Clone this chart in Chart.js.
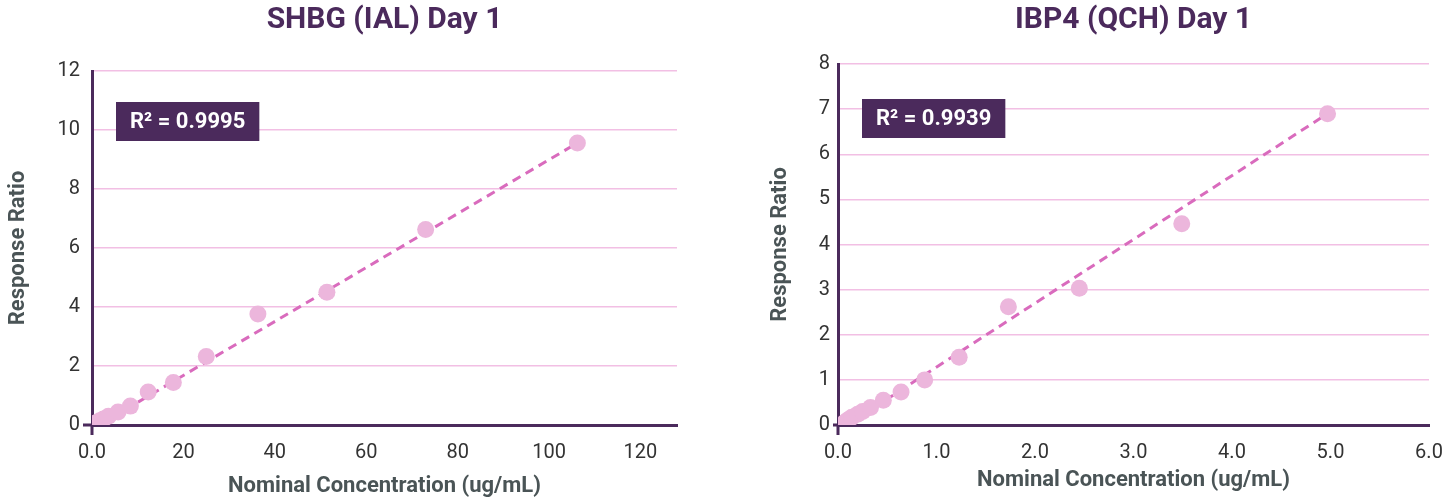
<!DOCTYPE html>
<html>
<head>
<meta charset="utf-8">
<script src="https://cdn.jsdelivr.net/npm/chart.js@4.4.1/dist/chart.umd.min.js"></script>
<style>
  body { margin: 0; background: #ffffff; }
  #wrap { position: relative; width: 1455px; height: 502px; }
  canvas { position: absolute; top: 0; }
  #c1 { left: 0; }
  #c2 { left: 727px; }
</style>
</head>
<body>
<div id="wrap">
  <canvas id="c1" width="727" height="502"></canvas>
  <canvas id="c2" width="728" height="502"></canvas>
</div>
<script>
// SHBG (IAL) Day 1
const shbgConc  = [0.3, 0.6, 1.1, 1.7, 2.5, 3.6, 5.7, 8.4, 12.3, 17.8, 25.0, 36.3, 51.4, 73.0, 106.2];
const shbgRatio = [0.02, 0.05, 0.09, 0.14, 0.2, 0.3, 0.44, 0.64, 1.12, 1.44, 2.32, 3.76, 4.5, 6.63, 9.56];
const shbgFitX  = [1.6, 106.2];
const shbgFitY  = [0.0, 9.56];

// IBP4 (QCH) Day 1
const ibpConc  = [0.07, 0.1, 0.14, 0.2, 0.25, 0.33, 0.46, 0.64, 0.88, 1.23, 1.73, 2.45, 3.49, 4.97];
const ibpRatio = [0.06, 0.11, 0.17, 0.24, 0.3, 0.39, 0.55, 0.73, 1.0, 1.5, 2.62, 3.03, 4.46, 6.9];
const ibpFitX  = [0.1, 4.97];
const ibpFitY  = [0.01, 6.9];

const AXIS = '#4b2a5c';
const GRID = '#f2bfe4';
const POINT = '#ecb6dc';
const FIT = '#d96bbd';
const TICK = '#333333';
const AXTITLE = '#4a5456';

function pairs(xs, ys) {
  return xs.map((x, i) => ({ x: x, y: ys[i] }));
}

// R² label box, placed relative to the plot area
const r2Box = {
  id: 'r2Box',
  afterDatasetsDraw(chart, args, opts) {
    const ctx = chart.ctx;
    const a = chart.chartArea;
    ctx.save();
    ctx.font = 'bold 22px Roboto';
    const w = ctx.measureText(opts.text).width + 28;
    const x = a.left + 24;
    const y = a.top + opts.dy;
    ctx.fillStyle = AXIS;
    ctx.fillRect(x, y, w, 39);
    ctx.fillStyle = '#ffffff';
    ctx.textBaseline = 'middle';
    ctx.fillText(opts.text, x + 14, y + 20);
    ctx.restore();
  }
};

// small overhang of the axis lines past the origin
const axisStubs = {
  id: 'axisStubs',
  afterDraw(chart, args, opts) {
    const ctx = chart.ctx;
    const x0 = chart.scales.x.getPixelForValue(0);
    const y0 = chart.scales.y.getPixelForValue(0);
    ctx.save();
    ctx.strokeStyle = AXIS;
    ctx.lineWidth = 3;
    ctx.beginPath();
    ctx.moveTo(x0, y0);
    ctx.lineTo(x0, y0 + opts.down);
    ctx.moveTo(x0, y0);
    ctx.lineTo(x0 - opts.left, y0);
    ctx.stroke();
    ctx.restore();
  }
};

function makeChart(id, opt) {
  new Chart(document.getElementById(id), {
    type: 'scatter',
    data: {
      datasets: [
        {
          data: pairs(opt.conc, opt.ratio),
          backgroundColor: POINT,
          borderWidth: 0,
          pointRadius: 8.5,
          showLine: false
        },
        {
          data: pairs(opt.fitX, opt.fitY),
          showLine: true,
          borderColor: FIT,
          borderWidth: 3,
          borderDash: [9, 6],
          pointRadius: 0,
          fill: false
        }
      ]
    },
    options: {
      responsive: false,
      animation: false,
      devicePixelRatio: 1,
      layout: { padding: { left: opt.padLeft, right: opt.padRight, top: 0, bottom: 0 } },
      plugins: {
        legend: { display: false },
        tooltip: { enabled: false },
        title: {
          display: true,
          fullSize: false,
          text: opt.title,
          color: AXIS,
          font: { family: 'Roboto', size: 30, weight: 'bold' },
          padding: { top: 2, bottom: opt.titleGap }
        },
        r2Box: { text: opt.r2, dy: opt.boxDy },
        axisStubs: { down: 10, left: opt.yTickLen }
      },
      scales: {
        x: {
          type: 'linear',
          min: 0,
          max: opt.xMax,
          border: { display: true, color: AXIS, width: 3 },
          grid: {
            drawOnChartArea: false,
            tickLength: 10,
            color: 'rgba(0,0,0,0)'
          },
          ticks: {
            stepSize: opt.xStep,
            includeBounds: false,
            padding: 6,
            maxRotation: 0,
            color: TICK,
            font: { family: 'Roboto', size: 20 },
            callback: opt.xLabel
          },
          title: {
            display: true,
            text: 'Nominal Concentration (ug/mL)',
            color: AXTITLE,
            font: { family: 'Roboto', size: 22, weight: 'bold' },
            padding: { top: 4, bottom: opt.xTitleBottom }
          },
          afterFit: (s) => { s.height = 77; }
        },
        y: {
          type: 'linear',
          min: 0,
          max: opt.yMax,
          border: { display: true, color: AXIS, width: 3 },
          grid: {
            color: (c) => (c.tick && c.tick.value === 0 ? 'rgba(0,0,0,0)' : GRID),
            lineWidth: 1.5,
            tickLength: opt.yTickLen,
            tickColor: 'rgba(0,0,0,0)'
          },
          ticks: {
            stepSize: opt.yStep,
            padding: 3,
            color: TICK,
            font: { family: 'Roboto', size: 20 }
          },
          title: {
            display: true,
            text: 'Response Ratio',
            color: AXTITLE,
            font: { family: 'Roboto', size: 22, weight: 'bold' },
            padding: { top: 5, bottom: 4 }
          },
          afterFit: (s) => { s.width = opt.yWidth; }
        }
      }
    },
    plugins: [r2Box, axisStubs]
  });
}

makeChart('c1', {
  conc: shbgConc, ratio: shbgRatio, fitX: shbgFitX, fitY: shbgFitY,
  title: 'SHBG (IAL) Day 1', r2: 'R\u00B2 = 0.9995',
  xMax: 128, xStep: 20, yMax: 12, yStep: 2,
  xLabel: (v) => (v === 0 ? '0.0' : String(v)),
  padLeft: 0, padRight: 50, yWidth: 92, yTickLen: 9,
  titleGap: 33, boxDy: 31, xTitleBottom: 2
});

makeChart('c2', {
  conc: ibpConc, ratio: ibpRatio, fitX: ibpFitX, fitY: ibpFitY,
  title: 'IBP4 (QCH) Day 1', r2: 'R\u00B2 = 0.9939',
  xMax: 6, xStep: 1, yMax: 8, yStep: 1,
  xLabel: (v) => v.toFixed(1),
  padLeft: 35, padRight: 26, yWidth: 76, yTickLen: 5,
  titleGap: 26, boxDy: 35, xTitleBottom: 8
});
</script>
</body>
</html>
